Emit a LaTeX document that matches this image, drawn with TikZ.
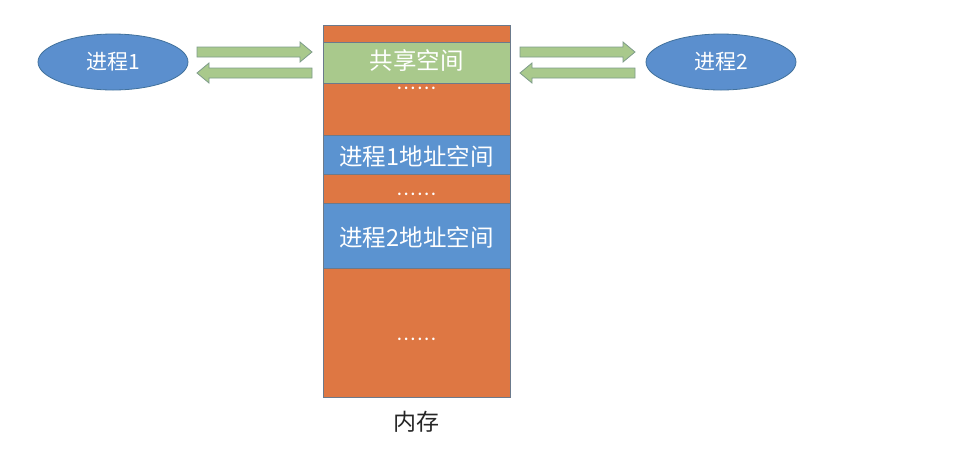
\documentclass[tikz,border=0pt]{standalone}
\usepackage{fontspec}
\setmainfont{Noto Sans CJK SC}
\usetikzlibrary{positioning,shapes.geometric}
\definecolor{memorange}{HTML}{DE7743}
\definecolor{memblue}{HTML}{5B93D0}
\definecolor{memgreen}{HTML}{A9C98C}
\definecolor{ellblue}{HTML}{5B8FCE}
\definecolor{ellborder}{HTML}{41719C}
\definecolor{arrgreen}{HTML}{A9C98C}
\definecolor{arrborder}{HTML}{7E9C8A}
\definecolor{segborder}{HTML}{6B7A8C}
\tikzset{
  seg/.style={draw=segborder, line width=0.8pt, minimum width=187pt, inner sep=0pt, anchor=north},
  memtext/.style={text=white, font=\fontsize{23.5}{26}\selectfont, inner sep=0pt},
  proc/.style={ellipse, draw=ellborder, line width=0.8pt, fill=ellblue, minimum width=150pt, minimum height=56pt, text=white, font=\fontsize{21}{24}\selectfont, inner sep=0pt},
  blockarr/.style={draw=arrborder, fill=arrgreen, line width=0.8pt, line join=miter},
  dots/.style={text=white, font=\fontsize{12}{12}\selectfont\bfseries, inner sep=0pt}
}
\newcommand{\rarrow}[3]{% x1 x2 ycenter
  \filldraw[blockarr] (#1,#3-5) -- (#2-12,#3-5) -- (#2-12,#3-10) -- (#2,#3) -- (#2-12,#3+10) -- (#2-12,#3+5) -- (#1,#3+5) -- cycle;}
\newcommand{\larrow}[3]{% x1 (head) x2 ycenter
  \filldraw[blockarr] (#2,#3-5) -- (#1+12,#3-5) -- (#1+12,#3-10) -- (#1,#3) -- (#1+12,#3+10) -- (#1+12,#3+5) -- (#2,#3+5) -- cycle;}
\newcommand{\sixdots}{.\hspace{2.6pt}.\hspace{2.6pt}.\hspace{2.6pt}.\hspace{2.6pt}.\hspace{2.6pt}.}
\begin{document}
\begin{tikzpicture}[x=1pt,y=-1pt]
\useasboundingbox (0,0) rectangle (978,451);
\fill[white] (0,0) rectangle (978,451);
% memory column
\node[seg, fill=memorange, minimum height=17pt] (s0) at (416.5,25) {};
\node[seg, fill=memgreen, minimum height=41pt] (s1) at (416.5,42) {};
\node[seg, fill=memorange, minimum height=53pt] (s2) at (416.5,83) {};
\node[seg, fill=memblue, minimum height=39pt] (s3) at (416.5,135) {};
\node[seg, fill=memorange, minimum height=29pt] (s4) at (416.5,174) {};
\node[seg, fill=memblue, minimum height=65pt] (s5) at (416.5,203) {};
\node[seg, fill=memorange, minimum height=129pt] (s6) at (416.5,268) {};
% texts
\node[memtext] (t1) at (416.5,61) {共享空间};
\node[dots] (d1) at (416.5,88) {\sixdots};
\node[memtext] (t3) at (416.5,156) {进程1地址空间};
\node[dots] (d2) at (416.5,194) {\sixdots};
\node[memtext] (t5) at (416.5,237) {进程2地址空间};
\node[dots] (d3) at (416.5,339) {\sixdots};
\node[font=\fontsize{23}{26}\selectfont, text=black!85, inner sep=0pt] (mem) at (416.5,422) {内存};
% processes
\node[proc] (p1) at (113,62) {进程1};
\node[proc] (p2) at (721,62) {进程2};
% arrows
\rarrow{197}{312}{52}
\larrow{197}{312}{73}
\rarrow{520}{635}{52}
\larrow{520}{635}{73}
\end{tikzpicture}
\end{document}
